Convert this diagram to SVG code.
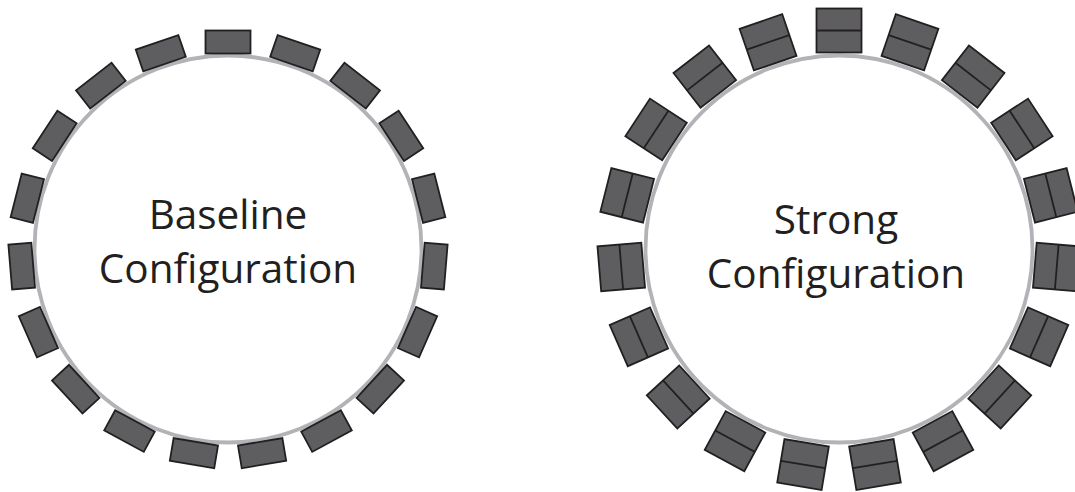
<svg xmlns="http://www.w3.org/2000/svg" xmlns:xlink="http://www.w3.org/1999/xlink" width="1075" height="492" viewBox="0 0 1075 492">
<style>
.ring{fill:#ffffff;stroke:#b2b3b6;stroke-width:3.8}
.box{fill:#5e5e61;stroke:#231f20;stroke-width:1.8}
.div{stroke:#231f20;stroke-width:1.8}
.lbl{font-family:"Open Sans","Noto Sans","Liberation Sans",sans-serif;font-size:40.5px;fill:#231f20;text-anchor:middle}
</style>
<defs>
<g id="boxA"><rect class="box" x="205.5" y="30.5" width="45" height="23"/></g>
<g id="boxB"><rect class="box" x="816.5" y="8.5" width="45" height="44"/><line class="div" x1="816.5" y1="30.5" x2="861.5" y2="30.5"/></g>
</defs>
<rect width="1075" height="492" fill="#ffffff"/>
<g id="baseline">
<circle id="ringL" class="ring" cx="228" cy="249" r="193.5"/>
<g id="L0"><use xlink:href="#boxA" transform="rotate(0 228 249)"/></g>
<g id="L1"><use xlink:href="#boxA" transform="rotate(18.947 228 249)"/></g>
<g id="L2"><use xlink:href="#boxA" transform="rotate(37.895 228 249)"/></g>
<g id="L3"><use xlink:href="#boxA" transform="rotate(56.842 228 249)"/></g>
<g id="L4"><use xlink:href="#boxA" transform="rotate(75.789 228 249)"/></g>
<g id="L5"><use xlink:href="#boxA" transform="rotate(94.737 228 249)"/></g>
<g id="L6"><use xlink:href="#boxA" transform="rotate(113.684 228 249)"/></g>
<g id="L7"><use xlink:href="#boxA" transform="rotate(132.632 228 249)"/></g>
<g id="L8"><use xlink:href="#boxA" transform="rotate(151.579 228 249)"/></g>
<g id="L9"><use xlink:href="#boxA" transform="rotate(170.526 228 249)"/></g>
<g id="L10"><use xlink:href="#boxA" transform="rotate(189.474 228 249)"/></g>
<g id="L11"><use xlink:href="#boxA" transform="rotate(208.421 228 249)"/></g>
<g id="L12"><use xlink:href="#boxA" transform="rotate(227.368 228 249)"/></g>
<g id="L13"><use xlink:href="#boxA" transform="rotate(246.316 228 249)"/></g>
<g id="L14"><use xlink:href="#boxA" transform="rotate(265.263 228 249)"/></g>
<g id="L15"><use xlink:href="#boxA" transform="rotate(284.211 228 249)"/></g>
<g id="L16"><use xlink:href="#boxA" transform="rotate(303.158 228 249)"/></g>
<g id="L17"><use xlink:href="#boxA" transform="rotate(322.105 228 249)"/></g>
<g id="L18"><use xlink:href="#boxA" transform="rotate(341.053 228 249)"/></g>
<text class="lbl" x="228" y="229">Baseline</text>
<text class="lbl" x="228" y="283">Configuration</text>
</g>
<g id="strong">
<circle id="ringR" class="ring" cx="839" cy="249" r="193.5"/>
<g id="R0"><use xlink:href="#boxB" transform="rotate(0 839 249)"/></g>
<g id="R1"><use xlink:href="#boxB" transform="rotate(18.947 839 249)"/></g>
<g id="R2"><use xlink:href="#boxB" transform="rotate(37.895 839 249)"/></g>
<g id="R3"><use xlink:href="#boxB" transform="rotate(56.842 839 249)"/></g>
<g id="R4"><use xlink:href="#boxB" transform="rotate(75.789 839 249)"/></g>
<g id="R5"><use xlink:href="#boxB" transform="rotate(94.737 839 249)"/></g>
<g id="R6"><use xlink:href="#boxB" transform="rotate(113.684 839 249)"/></g>
<g id="R7"><use xlink:href="#boxB" transform="rotate(132.632 839 249)"/></g>
<g id="R8"><use xlink:href="#boxB" transform="rotate(151.579 839 249)"/></g>
<g id="R9"><use xlink:href="#boxB" transform="rotate(170.526 839 249)"/></g>
<g id="R10"><use xlink:href="#boxB" transform="rotate(189.474 839 249)"/></g>
<g id="R11"><use xlink:href="#boxB" transform="rotate(208.421 839 249)"/></g>
<g id="R12"><use xlink:href="#boxB" transform="rotate(227.368 839 249)"/></g>
<g id="R13"><use xlink:href="#boxB" transform="rotate(246.316 839 249)"/></g>
<g id="R14"><use xlink:href="#boxB" transform="rotate(265.263 839 249)"/></g>
<g id="R15"><use xlink:href="#boxB" transform="rotate(284.211 839 249)"/></g>
<g id="R16"><use xlink:href="#boxB" transform="rotate(303.158 839 249)"/></g>
<g id="R17"><use xlink:href="#boxB" transform="rotate(322.105 839 249)"/></g>
<g id="R18"><use xlink:href="#boxB" transform="rotate(341.053 839 249)"/></g>
<text class="lbl" x="836" y="234">Strong</text>
<text class="lbl" x="836" y="288">Configuration</text>
</g>
<g id="connectors"/>
</svg>
